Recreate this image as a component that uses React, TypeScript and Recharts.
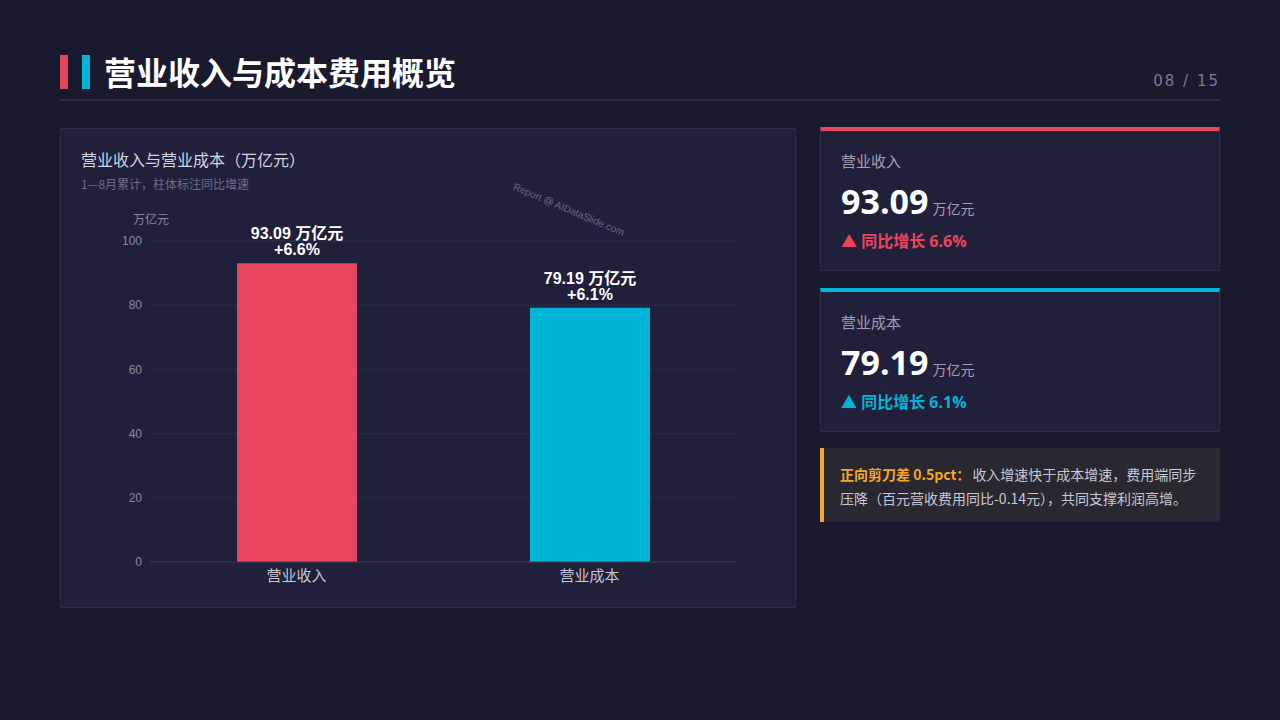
import React from "react";
import { BarChart, Bar, XAxis, YAxis, CartesianGrid, LabelList, Cell } from "recharts";

const categories = ["营业收入", "营业成本"];
const values = [93.09, 79.19];
const growth = ["+6.6%", "+6.1%"];
const colors = ["#e8465f", "#00b4d8"];
const yTicks = [0, 20, 40, 60, 80, 100];

const data = categories.map((c, i) => ({ name: c, value: values[i], growth: growth[i] }));

const CJK = '"Noto Sans CJK SC", "Open Sans", sans-serif';
const LAT = '"Liberation Sans", Arial, "Noto Sans CJK SC", sans-serif';

const TopLabel = (props: any) => {
  const { x, y, width, index } = props;
  const cx = x + width / 2;
  return (
    <g>
      <text x={cx} y={y - 24} textAnchor="middle" fill="#ffffff" fontSize={16} fontWeight="bold" fontFamily={LAT}>
        {values[index].toFixed(2)} 万亿元
      </text>
      <text x={cx} y={y - 8} textAnchor="middle" fill="#ffffff" fontSize={16} fontWeight="bold" fontFamily={LAT}>
        {growth[index]}
      </text>
    </g>
  );
};

const Card = ({ top, color, label, value, growthText }: any) => (
  <div style={{ position: "absolute", left: 820, top, width: 400, height: 144, boxSizing: "border-box", background: "#20203a", border: "1px solid #2e2e4a", borderTop: `4px solid ${color}` }}>
    <div style={{ position: "absolute", left: 20, top: 19, fontSize: 15, color: "#a0a0b4", fontFamily: CJK }}>{label}</div>
    <div style={{ position: "absolute", left: 20, top: 47, whiteSpace: "nowrap", fontFamily: '"Open Sans", sans-serif' }}>
      <span style={{ fontSize: 34, fontWeight: 700, color: "#ffffff" }}>{value}</span>
      <span style={{ fontSize: 14, color: "#a0a0b4", marginLeft: 4, fontFamily: CJK }}>万亿元</span>
    </div>
    <div style={{ position: "absolute", left: 20, top: 97, fontSize: 16, fontWeight: 700, color, fontFamily: '"Open Sans", "Noto Sans CJK SC", sans-serif' }}>▲ 同比增长 {growthText}</div>
  </div>
);

export default function App() {
  return (
    <div style={{ position: "fixed", left: 0, top: 0, width: 1280, height: 720, background: "#1a1a2e", overflow: "hidden", fontFamily: CJK }}>
      <div style={{ position: "absolute", left: 60, top: 55, width: 8, height: 34, background: "#e8465f" }} />
      <div style={{ position: "absolute", left: 82, top: 55, width: 8, height: 34, background: "#00b4d8" }} />
      <div style={{ position: "absolute", left: 104, top: 50, fontSize: 32, fontWeight: 700, color: "#ffffff", fontFamily: CJK, lineHeight: "42px" }}>营业收入与成本费用概览</div>
      <div style={{ position: "absolute", right: 60, top: 72, fontSize: 15, color: "#7a7a92", letterSpacing: 2, fontFamily: '"DejaVu Sans", sans-serif' }}>08 / 15</div>
      <div style={{ position: "absolute", left: 60, top: 99, width: 1160, height: 2, background: "#2c2c46" }} />

      <div style={{ position: "absolute", left: 60, top: 128, width: 736, height: 480, boxSizing: "border-box", background: "#20203a", border: "1px solid #2e2e4a" }}>
        <div style={{ position: "absolute", left: 20, top: 18, fontSize: 16, color: "#d4d4e0", fontFamily: CJK }}>营业收入与营业成本（万亿元）</div>
        <div style={{ position: "absolute", left: 20, top: 46, fontSize: 12, color: "#6e6e88", fontFamily: CJK }}>1—8月累计，柱体标注同比增速</div>
        <div style={{ position: "absolute", left: 72, top: 81, fontSize: 12, color: "#8a8aa0", fontFamily: CJK }}>万亿元</div>
        <div style={{ position: "absolute", left: 455, top: 52, fontSize: 10, color: "#6a6a84", transform: "rotate(23deg)", transformOrigin: "0 0", whiteSpace: "nowrap", fontFamily: LAT }}>Report @ AIDataSlide.com</div>
        <div style={{ position: "absolute", left: -1, top: -1 }}>
          <BarChart width={736} height={480} data={data} margin={{ top: 113, right: 60, bottom: 16, left: 0 }}>
            <CartesianGrid vertical={false} stroke="#2c2c48" />
            <XAxis dataKey="name" tickLine={false} axisLine={{ stroke: "#34344e" }} tick={{ fill: "#c4c4d4", fontSize: 15, fontFamily: CJK }} tickMargin={2} />
            <YAxis width={90} domain={[0, 100]} ticks={yTicks} tickLine={false} axisLine={false} tick={{ fill: "#8a8aa0", fontSize: 12, fontFamily: LAT }} />
            <Bar dataKey="value" barSize={120} isAnimationActive={false}>
              {data.map((d, i) => (
                <Cell key={d.name} fill={colors[i]} />
              ))}
              <LabelList dataKey="value" content={<TopLabel />} />
            </Bar>
          </BarChart>
        </div>
      </div>

      <Card top={127} color="#e8465f" label="营业收入" value="93.09" growthText="6.6%" />
      <Card top={288} color="#00b4d8" label="营业成本" value="79.19" growthText="6.1%" />

      <div style={{ position: "absolute", left: 820, top: 448, width: 400, height: 74, boxSizing: "border-box", background: "#29272f", borderLeft: "4px solid #f5a623", padding: "14px 14px 14px 16px", fontSize: 14, lineHeight: "24px", color: "#c8c8d4", fontFamily: CJK }}>
        <span style={{ color: "#f5a623", fontWeight: 700, marginRight: 2 }}>正向剪刀差 0.5pct：</span><span>收入增速快于成本增速，费用端同步压降（百元营收费用同比-0.14元），共同支撑利润高增。</span>
      </div>
    </div>
  );
}
